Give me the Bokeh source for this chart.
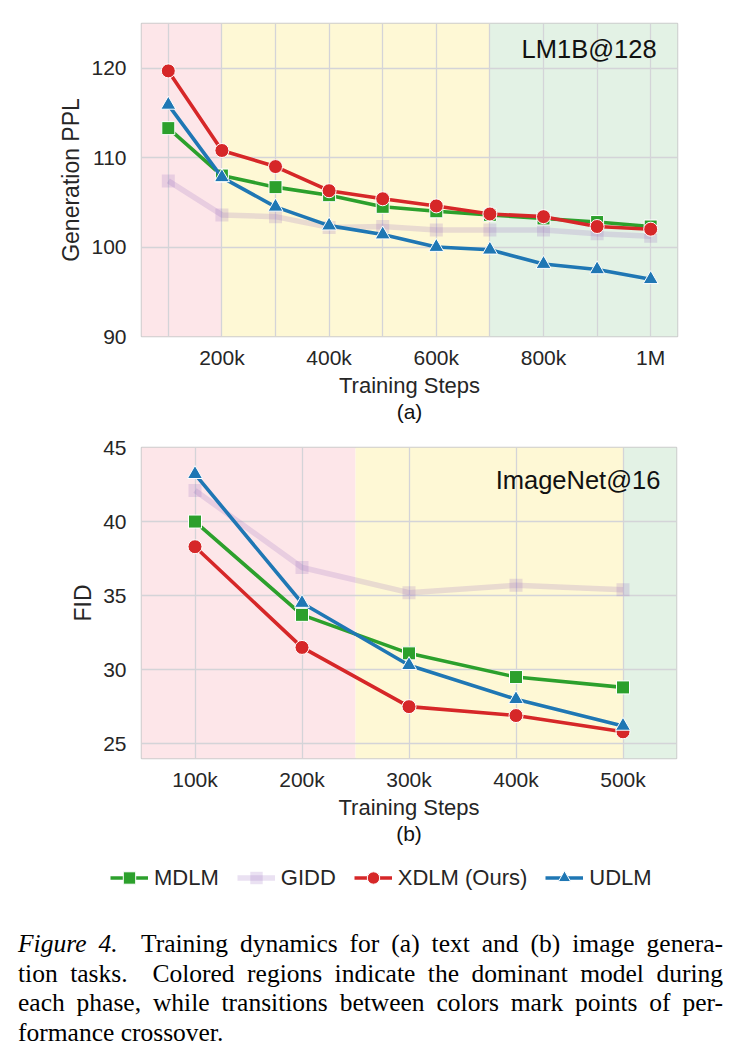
from bokeh.plotting import figure
from bokeh.models import (FixedTicker, BoxAnnotation, Label, Legend, LegendItem,
                          Title, Div, ColumnDataSource, Range1d)
from bokeh.layouts import column, row
from bokeh.embed import file_html
from bokeh.resources import INLINE

FONT = "Liberation Sans"
TXT = "#262626"

# ---------------- data: panel (a) LM1B@128 ----------------
steps_a = [100000, 200000, 300000, 400000, 500000, 600000, 700000, 800000, 900000, 1000000]
tick_a = [200000, 400000, 600000, 800000, 1000000]
tick_a_labels = ["200k", "400k", "600k", "800k", "1M"]
ytick_a = [90, 100, 110, 120]
mdlm_a = [113.3, 108.0, 106.7, 105.8, 104.5, 104.0, 103.6, 103.2, 102.8, 102.3]
gidd_a = [107.4, 103.6, 103.4, 102.2, 102.3, 101.9, 101.9, 101.9, 101.5, 101.2]
xdlm_a = [119.7, 110.8, 109.0, 106.3, 105.4, 104.6, 103.7, 103.4, 102.3, 102.0]
udlm_a = [115.9, 107.8, 104.5, 102.4, 101.4, 100.0, 99.7, 98.1, 97.5, 96.4]
region_a_start = [50000, 200000, 700000]
region_a_end = [200000, 700000, 1050000]
region_a_color = ["pink", "yellow", "green"]

# ---------------- data: panel (b) ImageNet@16 ----------------
steps_b = [100000, 200000, 300000, 400000, 500000]
tick_b_labels = ["100k", "200k", "300k", "400k", "500k"]
ytick_b = [25, 30, 35, 40, 45]
mdlm_b = [40.0, 33.7, 31.1, 29.5, 28.8]
gidd_b = [42.1, 36.9, 35.2, 35.7, 35.4]
xdlm_b = [38.3, 31.5, 27.5, 26.9, 25.8]
udlm_b = [43.2, 34.5, 30.3, 28.0, 26.2]
region_b_start = [50000, 250000, 500000]
region_b_end = [250000, 500000, 550000]
region_b_color = ["pink", "yellow", "green"]

series_names = ["MDLM", "GIDD", "XDLM (Ours)", "UDLM"]

BG = {"pink": "#fde6e9", "yellow": "#fef8d5", "green": "#e3f2e5"}
C_MDLM = "#2ca02c"
C_GIDD = "#9467bd"
C_XDLM = "#d62728"
C_UDLM = "#1f77b4"
STYLE = {
    "MDLM": dict(color=C_MDLM, marker="square", size=13, alpha=1.0, lw=3.6, edge="white"),
    "GIDD": dict(color=C_GIDD, marker="square", size=13, alpha=0.2, lw=5.5, edge=None),
    "XDLM (Ours)": dict(color=C_XDLM, marker="circle", size=14, alpha=1.0, lw=3.6, edge="white"),
    "UDLM": dict(color=C_UDLM, marker="triangle", size=15, alpha=1.0, lw=3.6, edge="white"),
}


def make_fig(xr, yr, fw, fh, top, bottom, right):
    p = figure(frame_width=fw, frame_height=fh, x_range=xr, y_range=yr,
               output_backend="svg", toolbar_location=None,
               min_border_left=141, min_border_right=right,
               min_border_top=top, min_border_bottom=bottom,
               background_fill_color="white", border_fill_color="white",
               outline_line_color="#cccccc", outline_line_width=1.5)
    p.axis.axis_line_color = None
    p.axis.major_tick_line_color = None
    p.axis.minor_tick_line_color = None
    p.axis.major_tick_out = 0
    p.axis.major_tick_in = 0
    p.axis.minor_tick_out = 0
    p.axis.minor_tick_in = 0
    p.axis.major_label_text_font = FONT
    p.axis.major_label_text_font_size = "21px"
    p.axis.major_label_text_color = TXT
    p.axis.axis_label_text_font = FONT
    p.axis.axis_label_text_font_style = "normal"
    p.axis.axis_label_text_color = TXT
    p.xaxis.axis_label_text_font_size = "22px"
    p.yaxis.axis_label_text_font_size = "23px"
    p.grid.grid_line_color = "#d4d4d8"
    p.grid.grid_line_width = 1.3
    p.xaxis.major_label_standoff = 9
    p.yaxis.major_label_standoff = 15
    p.xaxis.axis_label_standoff = 1
    p.yaxis.axis_label_standoff = 4
    return p


def add_regions(p, starts, ends, colors):
    for s, e, c in zip(starts, ends, colors):
        p.add_layout(BoxAnnotation(left=s, right=e, fill_color=BG[c], fill_alpha=1.0,
                                   line_color=None, level="image"))


def add_series(p, x, y, name):
    st = STYLE[name]
    src = ColumnDataSource(dict(x=x, y=y))
    l = p.line("x", "y", source=src, line_color=st["color"], line_width=st["lw"],
               line_alpha=st["alpha"])
    s = p.scatter("x", "y", source=src, marker=st["marker"], size=st["size"],
                  fill_color=st["color"], fill_alpha=st["alpha"],
                  line_color=st["edge"], line_width=1)
    return [l, s]


def add_all(p, x, m, g, xd, u):
    r_g = add_series(p, x, g, "GIDD")
    r_m = add_series(p, x, m, "MDLM")
    r_x = add_series(p, x, xd, "XDLM (Ours)")
    r_u = add_series(p, x, u, "UDLM")
    return {"MDLM": r_m, "GIDD": r_g, "XDLM (Ours)": r_x, "UDLM": r_u}


# ---------------- panel (a) ----------------
p1 = make_fig((50000, 1050000), (90, 125), 536, 313, 23, 94, 62)
add_regions(p1, region_a_start, region_a_end, region_a_color)
add_all(p1, steps_a, mdlm_a, gidd_a, xdlm_a, udlm_a)
p1.xaxis.ticker = FixedTicker(ticks=tick_a)
p1.xaxis.major_label_overrides = {t: s for t, s in zip(tick_a, tick_a_labels)}
p1.xgrid.ticker = FixedTicker(ticks=steps_a)
p1.yaxis.ticker = FixedTicker(ticks=ytick_a)
p1.xaxis.axis_label = "Training Steps"
p1.yaxis.axis_label = "Generation PPL"
p1.add_layout(Label(x=1011000, y=122.1, text="LM1B@128", text_align="right",
                    text_baseline="middle", text_font=FONT, text_font_size="25.5px",
                    text_color="#111111"))
p1.add_layout(Title(text="(a)", align="center", text_font=FONT, text_font_size="21px",
                    text_font_style="normal", text_color="#111111", standoff=-5), "below")

# ---------------- panel (b) ----------------
p2 = make_fig((50000, 550000), (24, 45), 535, 311, 17, 92, 63)
add_regions(p2, region_b_start, region_b_end, region_b_color)
add_all(p2, steps_b, mdlm_b, gidd_b, xdlm_b, udlm_b)
p2.xaxis.ticker = FixedTicker(ticks=steps_b)
p2.xaxis.major_label_overrides = {t: s for t, s in zip(steps_b, tick_b_labels)}
p2.yaxis.ticker = FixedTicker(ticks=ytick_b)
p2.xaxis.axis_label = "Training Steps"
p2.yaxis.axis_label = "FID"
p2.add_layout(Label(x=535000, y=42.8, text="ImageNet@16", text_align="right",
                    text_baseline="middle", text_font=FONT, text_font_size="25.5px",
                    text_color="#111111"))
p2.add_layout(Title(text="(b)", align="center", text_font=FONT, text_font_size="21px",
                    text_font_style="normal", text_color="#111111", standoff=-5), "below")

# ---------------- shared legend (same series; data lie outside this strip's view) ----------------
p3 = figure(width=739, height=55, x_range=Range1d(0, 1), y_range=Range1d(0, 1),
            output_backend="svg", toolbar_location=None, min_border=0,
            min_border_left=0, min_border_right=0, min_border_top=0, min_border_bottom=0,
            outline_line_color=None, background_fill_color="white",
            border_fill_color="white")
p3.axis.visible = False
p3.grid.visible = False
leg_r = add_all(p3, steps_b, mdlm_b, gidd_b, xdlm_b, udlm_b)
items = [LegendItem(label=name, renderers=leg_r[name]) for name in series_names]
legend = Legend(items=items, orientation="horizontal", location=(110, 12),
                label_text_font=FONT, label_text_font_size="22px", label_text_color=TXT,
                glyph_width=38, glyph_height=31, spacing=18, label_standoff=6,
                border_line_color=None, background_fill_alpha=0, padding=0, margin=0)
p3.add_layout(legend, "center")

# ---------------- caption ----------------
caption_lines = [
    "<i>Figure 4.</i>&nbsp; Training dynamics for (a) text and (b) image genera-",
    "tion tasks. &nbsp;Colored regions indicate the dominant model during",
    "each phase, while transitions between colors mark points of per-",
    "formance crossover.",
]
inner = "".join(
    '<div style="white-space:nowrap;text-align:justify;text-align-last:%s;">%s</div>'
    % ("justify" if i < len(caption_lines) - 1 else "left", t)
    for i, t in enumerate(caption_lines))
caption_html = ('<div style="font-family:\'Liberation Serif\',serif;font-size:25.5px;'
                'line-height:29.5px;color:#000;width:705px;margin-left:18px;'
                'padding-top:24px;">' + inner + '</div>')
div = Div(text=caption_html, width=739, height=158, margin=(0, 0, 0, 0))

layout = column(p1, p2, row(p3), div, spacing=0)
open("out.html", "w").write(file_html(layout, INLINE))
